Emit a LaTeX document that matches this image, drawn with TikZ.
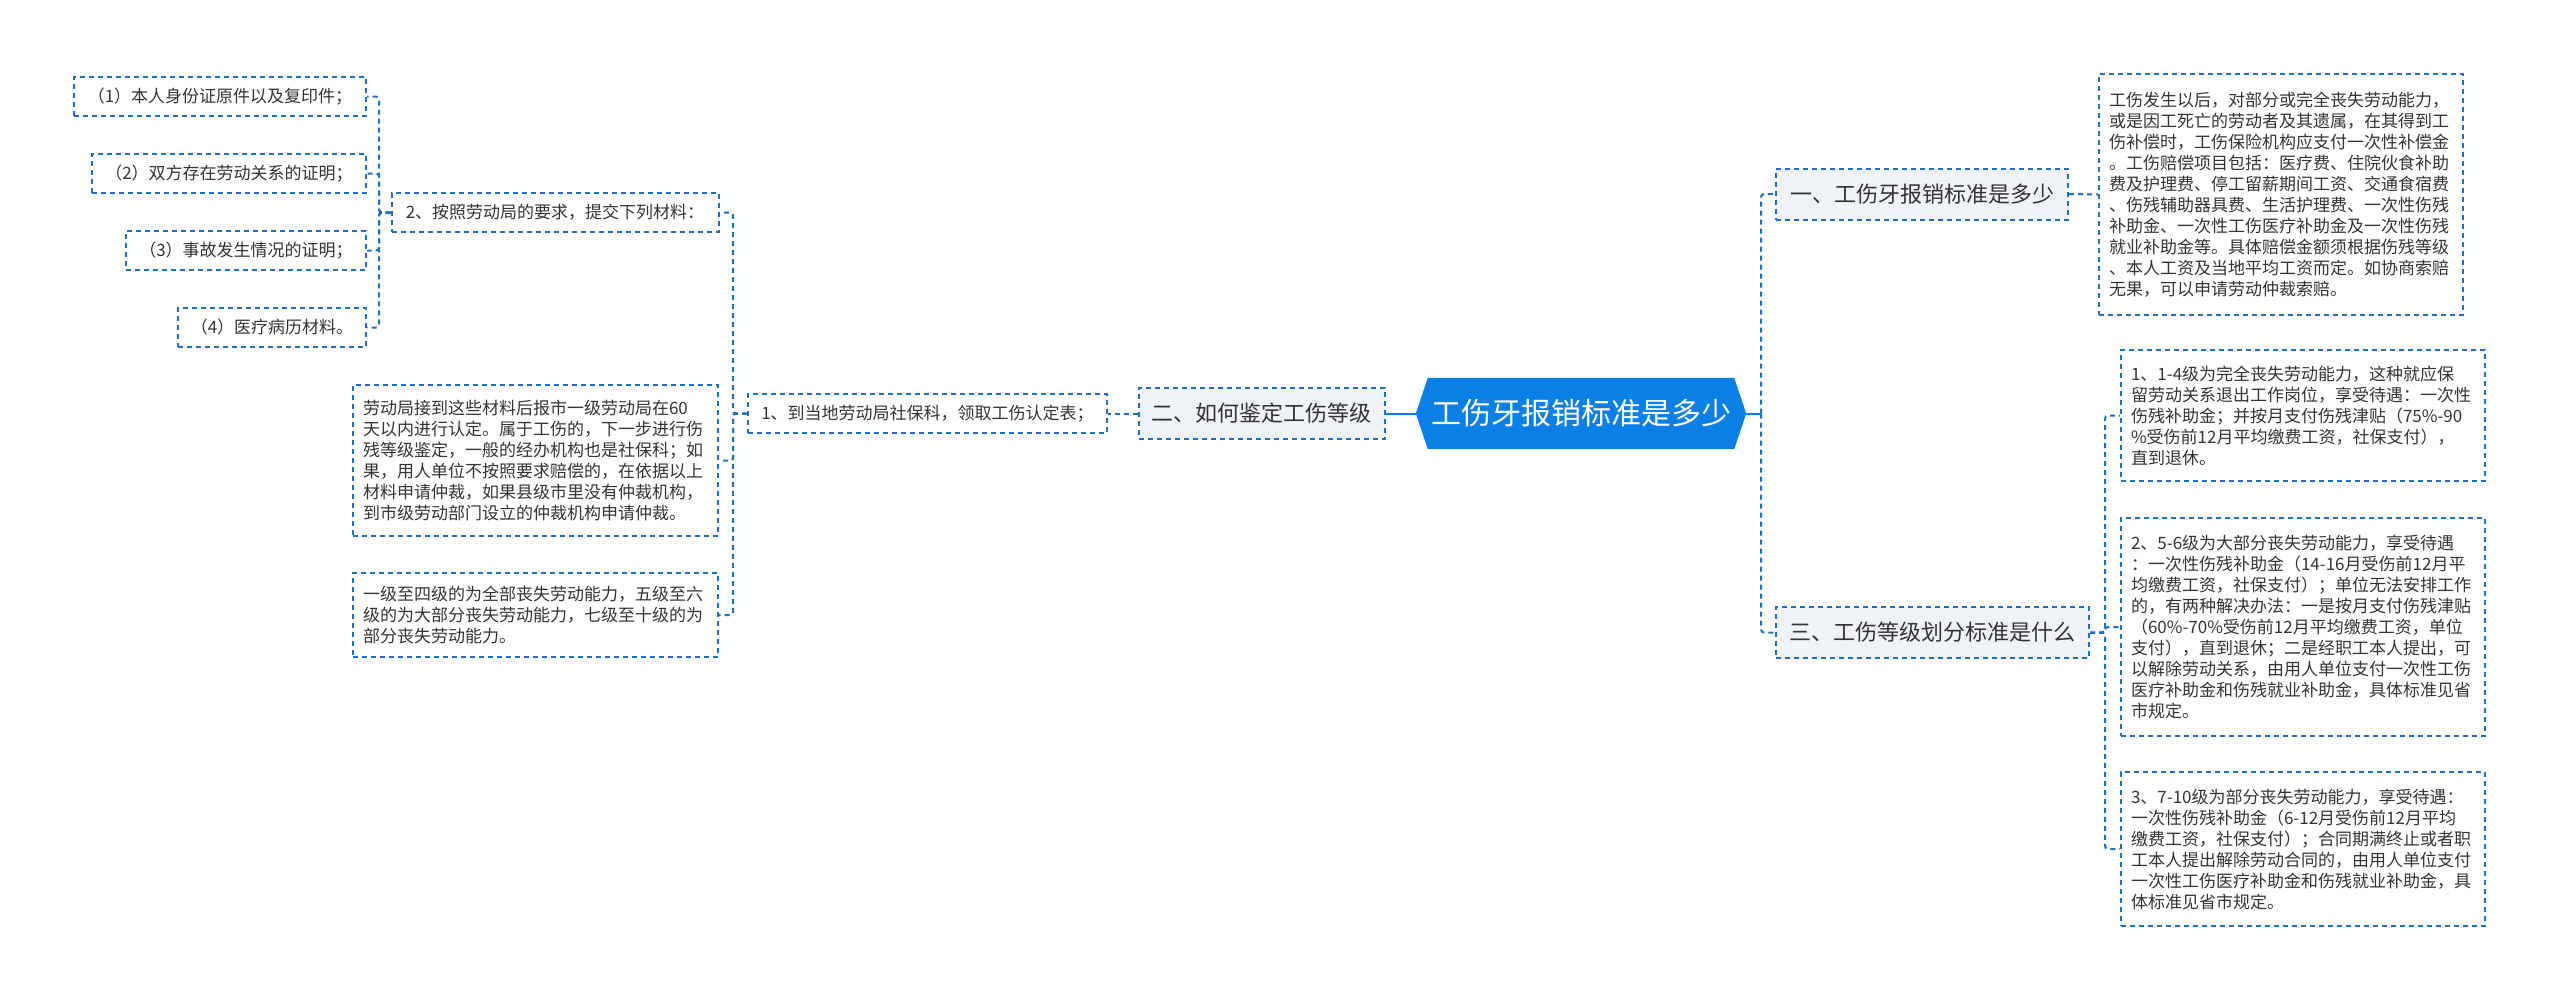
\documentclass[tikz,border=0pt]{standalone}
\usepackage{fontspec}
\newfontfamily\cjk{Noto Sans CJK SC}
\usetikzlibrary{backgrounds}
\definecolor{mainblue}{HTML}{0A7FE6}
\definecolor{linkblue}{HTML}{1F6FC5}
\definecolor{txt}{HTML}{333333}
\definecolor{lvlfill}{HTML}{EFF2F6}
\begin{document}
\begin{tikzpicture}[x=1pt,y=-1pt,
 box/.style={draw=linkblue, line width=2pt, dash pattern=on 5pt off 4pt, inner sep=0pt, text=txt},
 lvl/.style={box, fill=lvlfill, font=\cjk\fontsize{22}{26}\selectfont, minimum height=51pt},
 para/.style={box, fill=white, font=\cjk\fontsize{17}{21}\selectfont, align=left, inner xsep=10pt, text width=344pt},
 item/.style={box, fill=white, font=\cjk\fontsize{17}{21}\selectfont, minimum height=39pt},
 link/.style={draw=linkblue, line width=2pt, dash pattern=on 5pt off 4pt, rounded corners=3pt},
 trunk/.style={draw=mainblue, line width=2pt},
]
\useasboundingbox (0,0) rectangle (2560,999);

% central
\node[minimum width=330pt, minimum height=71pt, inner sep=0pt, text=white,
      font=\cjk\fontsize{30}{36}\selectfont] (c) at (1581,413.5) {工伤牙报销标准是多少};
\begin{scope}[on background layer]
\fill[white] (0,0) rectangle (2560,999);
\fill[mainblue] (c.west) -- ([xshift=12pt]c.north west) -- ([xshift=-12pt]c.north east)
  -- (c.east) -- ([xshift=-12pt]c.south east) -- ([xshift=12pt]c.south west) -- cycle;
\end{scope}

% level 1
\node[lvl, minimum width=292pt] (n1) at (1922,194) {一、工伤牙报销标准是多少};
\node[lvl, minimum width=246pt] (n2) at (1261.5,413.5) {二、如何鉴定工伤等级};
\node[lvl, minimum width=313pt] (n3) at (1932.5,632.5) {三、工伤等级划分标准是什么};

% right side
\node[para, minimum height=241pt] (t1) at (2281,194.5) {工伤发生以后，对部分或完全丧失劳动能力，\\或是因工死亡的劳动者及其遗属，在其得到工\\伤补偿时，工伤保险机构应支付一次性补偿金\\。工伤赔偿项目包括：医疗费、住院伙食补助\\费及护理费、停工留薪期间工资、交通食宿费\\、伤残辅助器具费、生活护理费、一次性伤残\\补助金、一次性工伤医疗补助金及一次性伤残\\就业补助金等。具体赔偿金额须根据伤残等级\\、本人工资及当地平均工资而定。如协商索赔\\无果，可以申请劳动仲裁索赔。};

\node[para, minimum height=131pt] (A) at (2303,415.5) {1、1-4级为完全丧失劳动能力，这种就应保\\留劳动关系退出工作岗位，享受待遇：一次性\\伤残补助金；并按月支付伤残津贴（75\%-90\\\%受伤前12月平均缴费工资，社保支付），\\直到退休。};

\node[para, minimum height=218pt] (B) at (2303,627) {2、5-6级为大部分丧失劳动能力，享受待遇\\：一次性伤残补助金（14-16月受伤前12月平\\均缴费工资，社保支付）；单位无法安排工作\\的，有两种解决办法：一是按月支付伤残津贴\\（60\%-70\%受伤前12月平均缴费工资，单位\\支付），直到退休；二是经职工本人提出，可\\以解除劳动关系，由用人单位支付一次性工伤\\医疗补助金和伤残就业补助金，具体标准见省\\市规定。};

\node[para, minimum height=154pt] (C) at (2303,849) {3、7-10级为部分丧失劳动能力，享受待遇：\\一次性伤残补助金（6-12月受伤前12月平均\\缴费工资，社保支付）；合同期满终止或者职\\工本人提出解除劳动合同的，由用人单位支付\\一次性工伤医疗补助金和伤残就业补助金，具\\体标准见省市规定。};

% left side
\node[item, minimum width=359pt] (L1) at (927.5,413.5) {1、到当地劳动局社保科，领取工伤认定表；};
\node[item, minimum width=327pt] (L2) at (555,212.5) {2、按照劳动局的要求，提交下列材料：};

\node[para, text width=345pt, minimum height=151pt] (P1) at (535.5,460.5) {劳动局接到这些材料后报市一级劳动局在60\\天以内进行认定。属于工伤的，下一步进行伤\\残等级鉴定，一般的经办机构也是社保科；如\\果，用人单位不按照要求赔偿的，在依据以上\\材料申请仲裁，如果县级市里没有仲裁机构，\\到市级劳动部门设立的仲裁机构申请仲裁。};
\node[para, text width=345pt, minimum height=84pt] (P2) at (535.5,615) {一级至四级的为全部丧失劳动能力，五级至六\\级的为大部分丧失劳动能力，七级至十级的为\\部分丧失劳动能力。};

\node[item, minimum width=292pt] (s1) at (220,96.5) {（1）本人身份证原件以及复印件；};
\node[item, minimum width=274pt] (s2) at (229,173.5) {（2）双方存在劳动关系的证明；};
\node[item, minimum width=240pt] (s3) at (246,250.5) {（3）事故发生情况的证明；};
\node[item, minimum width=188pt] (s4) at (272,327.5) {（4）医疗病历材料。};

% connectors
\coordinate (cr) at (1761,413.5);
\coordinate (r3) at (2105,632.5);
\coordinate (l1) at (733,413.5);
\coordinate (l2) at (379,212.5);

\draw[trunk] (c.east) -- (cr);
\draw[trunk] (c.west) -- (n2.east);
\draw[link] (cr) |- (n1.west);
\draw[link] (cr) |- (n3.west);
\draw[link] (n1.east) -- (t1.west);
\draw[link] (n3.east) -- (r3) |- (A.west);
\draw[link] (n3.east) -- (r3) |- (B.west);
\draw[link] (n3.east) -- (r3) |- (C.west);
\draw[link] (n2.west) -- (L1.east);
\draw[link] (L1.west) -- (l1) |- (L2.east);
\draw[link] (L1.west) -- (l1) |- (P1.east);
\draw[link] (L1.west) -- (l1) |- (P2.east);
\draw[link] (L2.west) -- (l2) |- (s1.east);
\draw[link] (L2.west) -- (l2) |- (s2.east);
\draw[link] (L2.west) -- (l2) |- (s3.east);
\draw[link] (L2.west) -- (l2) |- (s4.east);
\end{tikzpicture}
\end{document}
